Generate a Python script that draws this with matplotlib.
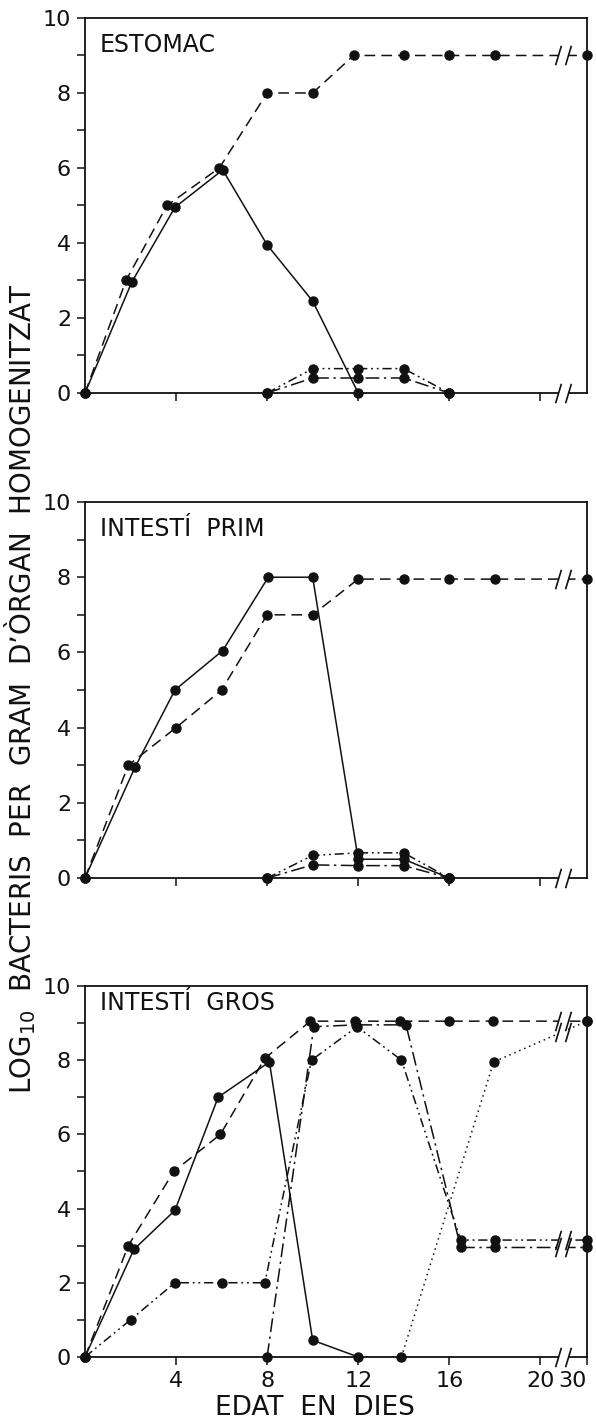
import numpy as np
import matplotlib
matplotlib.use('Agg')
import matplotlib.pyplot as plt

plt.rcParams['font.family'] = ['DejaVu Sans']

# x axis is in days; day 30 is drawn after the axis break
X_BREAK = 21.0
X_END = 22.05

# ---- ESTOMAC
est_dash_x = [0, 1.8, 3.6, 5.9, 8.0, 10.0, 11.8, 14.0, 16.0, 18.0, 30]
est_dash_y = [0, 3.0, 5.0, 6.0, 8.0, 8.0, 9.0, 9.0, 9.0, 9.0, 9.0]
est_solid_x = [0, 2.05, 3.95, 6.05, 8.0, 10.0, 12.0]
est_solid_y = [0, 2.95, 4.95, 5.95, 3.95, 2.45, 0]
est_ddot_x = [8, 10, 12, 14, 16]
est_ddot_y = [0, 0.65, 0.65, 0.65, 0]
est_dashdot_x = [8, 10, 12, 14, 16]
est_dashdot_y = [0, 0.4, 0.4, 0.4, 0]

# ---- INTESTI PRIM
prim_dash_x = [0, 1.9, 4.0, 6.0, 8.0, 10.0, 12.0, 14.0, 16.0, 18.0, 30]
prim_dash_y = [0, 3.0, 4.0, 5.0, 7.0, 7.0, 7.95, 7.95, 7.95, 7.95, 7.95]
prim_solid_x = [0, 2.2, 3.95, 6.05, 8.05, 10.0, 12.0, 14.0, 16.0]
prim_solid_y = [0, 2.95, 5.0, 6.05, 8.0, 8.0, 0.5, 0.5, 0]
prim_ddot_x = [8, 10, 12, 14, 16]
prim_ddot_y = [0, 0.6, 0.67, 0.67, 0]
prim_dashdot_x = [8, 10, 12, 14, 16]
prim_dashdot_y = [0, 0.35, 0.33, 0.33, 0]

# ---- INTESTI GROS
gros_dash_x = [0, 1.9, 3.9, 5.95, 7.9, 9.9, 11.85, 13.85, 16.0, 17.9, 30]
gros_dash_y = [0, 3.0, 5.0, 6.0, 8.05, 9.05, 9.05, 9.05, 9.05, 9.05, 9.05]
gros_solid_x = [0, 2.15, 3.95, 5.85, 8.1, 10.0, 12.0]
gros_solid_y = [0, 2.9, 3.95, 7.0, 7.95, 0.45, 0]
gros_ddot_x = [0, 2.0, 3.95, 6.0, 7.9, 9.95, 11.95, 13.9, 16.5, 18.0, 30]
gros_ddot_y = [0, 1.0, 2.0, 2.0, 2.0, 8.0, 8.9, 8.0, 3.15, 3.15, 3.15]
gros_dashdot_x = [8.0, 10.05, 11.9, 14.1, 16.5, 18.0, 30]
gros_dashdot_y = [0, 8.9, 8.95, 8.95, 2.95, 2.95, 2.95]
gros_dot_x = [13.9, 17.95, 30]
gros_dot_y = [0, 7.95, 9.05]

x_tick_vals = [4, 8, 12, 16, 20, 30]
x_tick_labels = ['4', '8', '12', '16', '20', '30']

DASH = (0, (7, 4))
DASHDOT = (0, (9, 3, 1.5, 3))
DDOT = (0, (6, 2.5, 1.2, 2.5, 1.2, 2.5))
DOT = (0, (1, 2.5))
INK = '#111111'


def xpos(d):
    d = np.asarray(d, dtype=float)
    return np.where(d > 20, X_END, d)


def draw_break(ax, y):
    # little "//" at the axis break
    ax.plot([X_BREAK - 0.22, X_BREAK + 0.22], [y, y], color='white', lw=4,
            solid_capstyle='butt', clip_on=False, zorder=6)
    ax.plot([X_BREAK - 0.22, X_BREAK + 0.22], [y, y], ls='none',
            marker=[(-0.3, -1), (0.3, 1)], ms=14, mew=1.2, color=INK,
            clip_on=False, zorder=7)


def series(ax, xs, ys, ls):
    ax.plot(xpos(xs), ys, ls=ls, color=INK, lw=1.1, marker='o', ms=6.5,
            clip_on=False, zorder=4)
    if xs[-1] > 20:
        yb = np.interp(X_BREAK, xpos(xs), ys)
        draw_break(ax, yb)


fig = plt.figure(figsize=(5.96, 14.27), dpi=100)

boxes = [[0.1426, 0.7246, 0.8423, 0.2628],
         [0.1426, 0.3847, 0.8423, 0.2635],
         [0.1426, 0.0491, 0.8423, 0.2600]]
titles = ['ESTOMAC', 'INTESTÍ  PRIM', 'INTESTÍ  GROS']
title_y = [0.96, 0.96, 0.985]

panels = [
    [(est_dash_x, est_dash_y, DASH), (est_solid_x, est_solid_y, '-'),
     (est_ddot_x, est_ddot_y, DDOT), (est_dashdot_x, est_dashdot_y, DASHDOT)],
    [(prim_dash_x, prim_dash_y, DASH), (prim_solid_x, prim_solid_y, '-'),
     (prim_ddot_x, prim_ddot_y, DDOT), (prim_dashdot_x, prim_dashdot_y, DASHDOT)],
    [(gros_dash_x, gros_dash_y, DASH), (gros_solid_x, gros_solid_y, '-'),
     (gros_ddot_x, gros_ddot_y, DDOT), (gros_dashdot_x, gros_dashdot_y, DASHDOT),
     (gros_dot_x, gros_dot_y, DOT)],
]

for i in range(3):
    ax = fig.add_axes(boxes[i])
    for xs, ys, ls in panels[i]:
        series(ax, xs, ys, ls)
    draw_break(ax, 0)
    ax.set_xlim(0, X_END)
    ax.set_ylim(0, 10)
    ax.set_yticks(range(11))
    ax.set_yticklabels([str(v) if v % 2 == 0 else '' for v in range(11)])
    if i == 2:
        ax.set_xticks(xpos(x_tick_vals))
        ax.set_xticklabels(x_tick_labels)
        # last label sits flush on the right edge
        ax.get_xticklabels()[-1].set_horizontalalignment('right')
    else:
        ax.set_xticks(xpos(x_tick_vals[:-1]))
        ax.set_xticklabels([])
    ax.tick_params(direction='out', length=6, width=1.1, labelsize=16,
                   colors=INK, pad=4)
    for s in ax.spines.values():
        s.set_linewidth(1.3)
        s.set_color(INK)
    ax.text(0.03, title_y[i], titles[i], transform=ax.transAxes, fontsize=17,
            va='top', ha='left', color=INK)

fig.text(0.034, 0.517, 'LOG$_{10}$  BACTERIS  PER  GRAM  D\u2019ÒRGAN  HOMOGENITZAT',
         rotation=90, ha='center', va='center', fontsize=20, color=INK)
fig.text(0.528, 0.013, 'EDAT  EN  DIES', ha='center', va='center',
         fontsize=19, color=INK)

plt.savefig('out.png', dpi=100)
